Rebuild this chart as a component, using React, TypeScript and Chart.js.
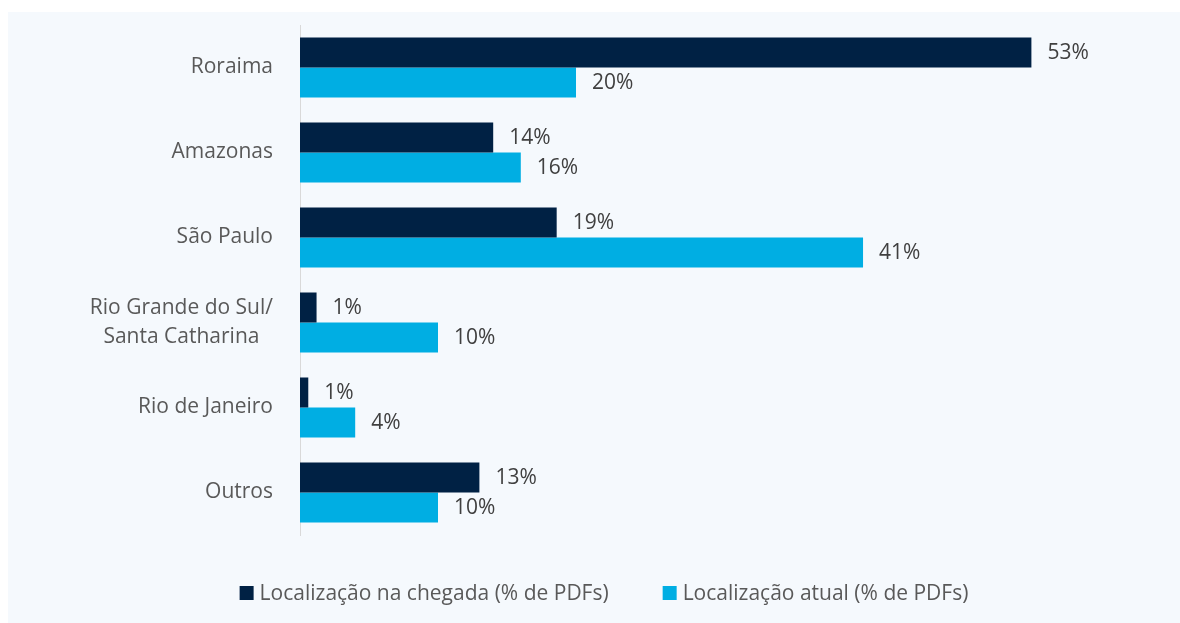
import React, { useEffect, useRef } from 'react';
import { Chart, registerables } from 'chart.js';

Chart.register(...registerables);

const categories: (string | string[])[] = [
  'Roraima',
  'Amazonas',
  'São Paulo',
  ['Rio Grande do Sul/', 'Santa Catharina'],
  'Rio de Janeiro',
  'Outros',
];
const arrivalValues = [53, 14, 18.6, 1.2, 0.6, 13];
const currentValues = [20, 16, 40.8, 10, 4, 10];
const arrivalLabels = ['53%', '14%', '19%', '1%', '1%', '13%'];
const currentLabels = ['20%', '16%', '41%', '10%', '4%', '10%'];
const seriesNames = ['Localização na chegada (% de PDFs)', 'Localização atual (% de PDFs)'];
const xMin = 0;
const xMax = 60;

const DARK = '#002144';
const LIGHT = '#00AEE3';
const FONT = "'Open Sans', 'Noto Sans', sans-serif";
const FS = 21;

const valueLabelPlugin = {
  id: 'valueLabels',
  afterDatasetsDraw(chart: any) {
    const ctx = chart.ctx;
    const all = [arrivalLabels, currentLabels];
    ctx.save();
    ctx.font = `${FS}px ${FONT}`;
    ctx.fillStyle = '#404040';
    ctx.textAlign = 'left';
    ctx.textBaseline = 'middle';
    chart.data.datasets.forEach((_: any, di: number) => {
      const meta = chart.getDatasetMeta(di);
      meta.data.forEach((el: any, i: number) => {
        ctx.fillText(all[di][i], el.x + 16, el.y + 1);
      });
    });
    ctx.restore();
  },
};

// Category labels: single lines right-aligned, wrapped labels centred line by line
const categoryLabelPlugin = {
  id: 'categoryLabels',
  afterDraw(chart: any) {
    const ctx = chart.ctx;
    const scale = chart.scales.y;
    const right = scale.right - 27;
    const lineH = 29;
    ctx.save();
    ctx.font = `${FS}px ${FONT}`;
    ctx.fillStyle = '#595959';
    ctx.textBaseline = 'middle';
    (chart.data.labels as any[]).forEach((lab, i) => {
      const y = scale.getPixelForTick(i);
      if (Array.isArray(lab)) {
        const maxW = Math.max(...lab.map((l: string) => ctx.measureText(l).width));
        const cx = right - maxW / 2;
        ctx.textAlign = 'center';
        lab.forEach((l: string, k: number) => {
          ctx.fillText(l, cx, y + (k - (lab.length - 1) / 2) * lineH);
        });
      } else {
        ctx.textAlign = 'right';
        ctx.fillText(lab, right, y);
      }
    });
    ctx.restore();
  },
};

const legendPlugin = {
  id: 'customLegend',
  afterDraw(chart: any) {
    const ctx = chart.ctx;
    ctx.save();
    ctx.font = `${FS}px ${FONT}`;
    const box = 14;
    const gap = 6;
    const itemGap = 54;
    const colors = [DARK, LIGHT];
    const widths = seriesNames.map((n) => ctx.measureText(n).width);
    const total = widths.reduce((a, w) => a + box + gap + w, 0) + itemGap * (seriesNames.length - 1);
    let x = chart.width / 2 + 10 - total / 2;
    const y = 581;
    seriesNames.forEach((name, i) => {
      ctx.fillStyle = colors[i];
      ctx.fillRect(x, y - box / 2, box, box);
      ctx.fillStyle = '#595959';
      ctx.textAlign = 'left';
      ctx.textBaseline = 'middle';
      ctx.fillText(name, x + box + gap, y + 1);
      x += box + gap + widths[i] + itemGap;
    });
    ctx.restore();
  },
};

export default function App() {
  const ref = useRef<HTMLCanvasElement | null>(null);

  useEffect(() => {
    if (!ref.current) return;
    const chart = new Chart(ref.current, {
      type: 'bar',
      data: {
        labels: categories as any,
        datasets: [
          {
            label: seriesNames[0],
            data: arrivalValues,
            backgroundColor: DARK,
            borderWidth: 0,
            categoryPercentage: 0.706,
            barPercentage: 1,
          },
          {
            label: seriesNames[1],
            data: currentValues,
            backgroundColor: LIGHT,
            borderWidth: 0,
            categoryPercentage: 0.706,
            barPercentage: 1,
          },
        ],
      },
      options: {
        indexAxis: 'y',
        responsive: false,
        animation: false,
        layout: { padding: { left: 0, right: 52, top: 13, bottom: 88 } },
        plugins: {
          legend: { display: false },
          tooltip: { enabled: false },
        },
        scales: {
          x: {
            display: false,
            min: xMin,
            max: xMax,
          },
          y: {
            grid: { display: false, drawTicks: false },
            border: { display: true, color: '#D9D9D9', width: 1 },
            ticks: {
              display: false,
              font: { family: FONT, size: FS },
            },
            afterFit: (s: any) => {
              s.width = 292;
              s.paddingTop = 0;
              s.paddingBottom = 0;
            },
          },
        },
      },
      plugins: [valueLabelPlugin, categoryLabelPlugin, legendPlugin],
    });
    return () => chart.destroy();
  }, []);

  return (
    <div
      style={{
        position: 'absolute',
        left: 8,
        top: 12,
        width: 1172,
        height: 611,
        background: '#F5F9FD',
      }}
    >
      <canvas ref={ref} width={1172} height={611} />
    </div>
  );
}
